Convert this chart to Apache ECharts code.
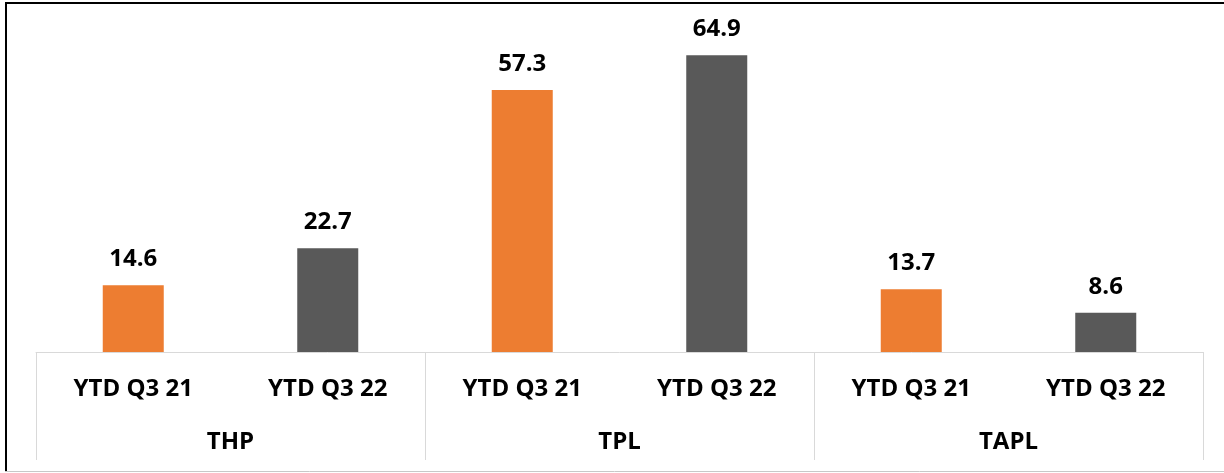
<!DOCTYPE html>
<html>
<head>
<meta charset="utf-8">
<script src="https://cdn.jsdelivr.net/npm/echarts@6/dist/echarts.min.js"></script>
<style>
	html,body{margin:0;padding:0;background:#fff;}
	#main{width:1224px;height:473px;}
</style>
</head>
<body>
<div id="main"></div>
<script>
// 数据
var periods = ["YTD Q3 21", "YTD Q3 22", "YTD Q3 21", "YTD Q3 22", "YTD Q3 21", "YTD Q3 22"];
var companies = ["THP", "TPL", "TAPL"];
var values = [14.6, 22.7, 57.3, 64.9, 13.7, 8.6];

var barColors = ["#ED7D31", "#595959"];
var fontFamily = "'Open Sans', sans-serif";

var myChart = echarts.init(document.getElementById('main'));

var option = {
	animation:false,
	grid:{
		left:36,
		right:21,
		top:32,
		bottom:121
	},
	//边框
	graphic:[
		{type:'line', shape:{x1:5, y1:3, x2:1224, y2:3}, style:{stroke:'#000', lineWidth:2}},
		{type:'line', shape:{x1:6, y1:2, x2:6, y2:472}, style:{stroke:'#000', lineWidth:2}},
		{type:'line', shape:{x1:5, y1:471.5, x2:1224, y2:471.5}, style:{stroke:'#c8c8c8', lineWidth:1}}
	],
	xAxis:[{
		type:'category',
		data:periods,
		position:'bottom',
		axisLine:{lineStyle:{color:'#d9d9d9', width:1}},
		axisTick:{show:false},
		axisLabel:{
			margin:25,
			color:'#000',
			fontSize:24,
			fontWeight:'bold',
			fontFamily:fontFamily
		}
	},{
		type:'category',
		data:companies,
		position:'bottom',
		axisLine:{show:false},
		axisTick:{
			show:true,
			length:108,
			lineStyle:{color:'#d9d9d9', width:1}
		},
		axisLabel:{
			margin:78,
			color:'#000',
			fontSize:24,
			fontWeight:'bold',
			fontFamily:fontFamily
		}
	}],
	yAxis:{
		type:'value',
		min:0,
		max:70,
		show:false,
		splitLine:{show:false}
	},
	series:[{
		type:'bar',
		xAxisIndex:0,
		data:values,
		barWidth:61,
		itemStyle:{
			color:function(p){ return barColors[p.dataIndex % 2]; }
		},
		label:{
			show:true,
			position:'top',
			distance:14,
			color:'#000',
			fontSize:24,
			fontWeight:'bold',
			fontFamily:fontFamily,
			formatter:function(p){ return p.value.toFixed(1); }
		}
	}]
};
myChart.setOption(option);
</script>
</body>
</html>
